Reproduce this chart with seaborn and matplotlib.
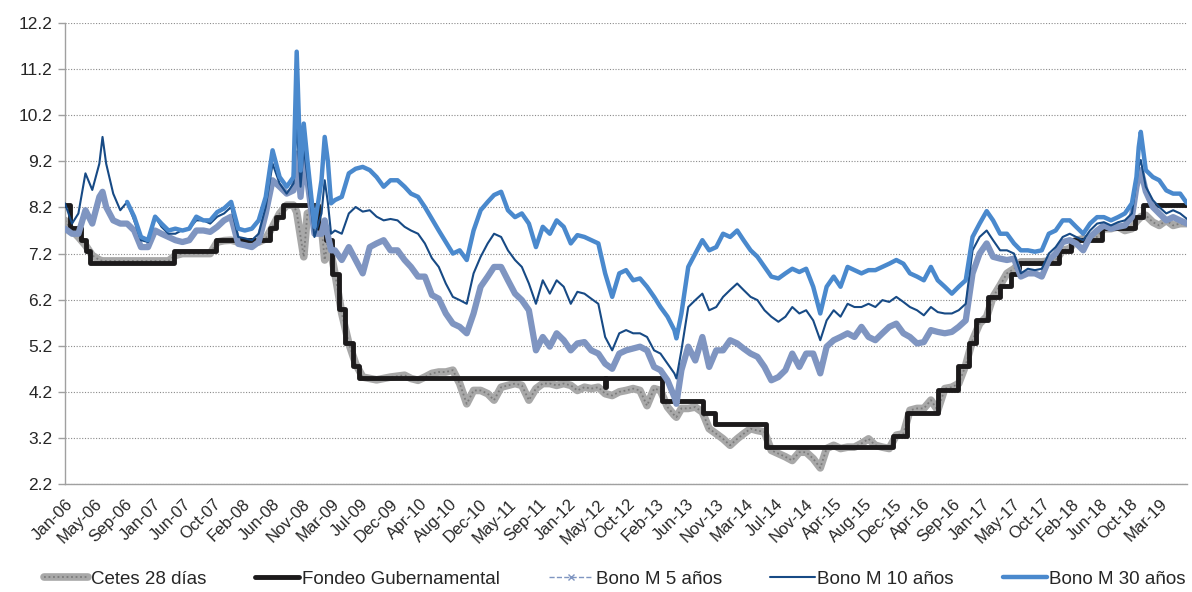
import numpy as np
import pandas as pd
import matplotlib
matplotlib.use('Agg')
import matplotlib.pyplot as plt
import matplotlib.dates as mdates
from matplotlib.lines import Line2D
import seaborn as sns

# monthly readings Jan-06 .. Jul-19, plus a few extra days around the spikes
extra_days = ['2006-06-15', '2008-10-15', '2008-11-15', '2009-02-15', '2009-03-15',
              '2013-05-10', '2018-11-21', '2018-12-10']
dates = pd.date_range('2006-01-01', '2019-07-01', freq='MS').union(pd.to_datetime(extra_days))

nan = np.nan

cetes_28 = [
    7.92, 7.70, 7.56, 7.38, 7.16, 7.06, 7.04, 7.04, 7.04, 7.04, 7.04, 7.04, 7.04,  # 2006
    7.04, 7.04, 7.04, 7.04, 7.16, 7.20, 7.20, 7.20, 7.20, 7.20, 7.45, 7.48,  # 2007
    7.49, 7.45, 7.42, 7.45, 7.45, 7.52, 7.78, 8.07, 8.25, 8.25, 8.10, 7.56, 7.13, 8.07,  # 2008
    8.14, 7.78, 7.06, 7.49, 7.20, 6.77, 5.90, 5.25, 4.81, 4.52, 4.49, 4.46, 4.49, 4.52,  # 2009
    4.54, 4.56, 4.49, 4.45, 4.52, 4.60, 4.63, 4.63, 4.67, 4.38, 3.94, 4.23,  # 2010
    4.23, 4.16, 4.02, 4.30, 4.34, 4.38, 4.34, 4.02, 4.27, 4.38, 4.38, 4.34,  # 2011
    4.38, 4.34, 4.23, 4.30, 4.27, 4.30, 4.16, 4.12, 4.20, 4.23, 4.27, 4.23,  # 2012
    3.90, 4.27, 4.23, 3.87, 3.69, 3.65, 3.84, 3.84, 3.87, 3.76, 3.40, 3.29, 3.18,  # 2013
    3.04, 3.18, 3.29, 3.40, 3.36, 3.33, 2.93, 2.86, 2.79, 2.71, 2.89, 2.89,  # 2014
    2.75, 2.55, 2.97, 3.04, 2.97, 3.00, 3.00, 3.08, 3.18, 3.04, 3.00, 2.97,  # 2015
    3.26, 3.29, 3.80, 3.84, 3.84, 4.02, 3.80, 4.27, 4.30, 4.38, 4.78, 5.32,  # 2016
    5.68, 5.83, 6.26, 6.51, 6.77, 6.87, 7.02, 7.02, 7.02, 7.02, 7.04, 7.05,  # 2017
    7.27, 7.31, 7.49, 7.52, 7.52, 7.56, 7.74, 7.74, 7.78, 7.70, 7.74, 7.90, 7.95, 8.00,  # 2018
    8.03, 7.88, 7.81, 7.92, 7.81, 7.85, 7.85,  # 2019
]

bono_5 = [
    7.74, 7.63, 7.63, 8.14, 7.85, 8.43, 8.54, 8.21, 7.92, 7.85, 7.85, 7.70, 7.34,
    7.34, 7.70, 7.63, 7.56, 7.49, 7.45, 7.49, 7.70, 7.70, 7.67, 7.78, 7.92,
    8.00, 7.41, 7.38, 7.34, 7.45, 8.07, 8.79, 8.65, 8.50, 8.57, 9.37, 8.43, 9.23, 8.79,
    7.63, 7.63, 7.92, 7.60, 7.27, 7.27, 7.06, 7.34, 7.06, 6.77, 7.34, 7.42, 7.49, 7.27,
    7.27, 7.06, 6.91, 6.70, 6.70, 6.30, 6.22, 5.90, 5.68, 5.61, 5.47, 5.90,
    6.48, 6.70, 6.91, 6.91, 6.62, 6.33, 6.19, 5.97, 5.10, 5.39, 5.18, 5.47,
    5.32, 5.10, 5.25, 5.28, 5.10, 5.03, 4.81, 4.70, 5.03, 5.10, 5.14, 5.18,
    5.10, 4.74, 4.67, 4.45, 4.09, 3.94, 4.67, 5.18, 4.88, 5.39, 4.74, 5.10, 5.10,
    5.32, 5.25, 5.14, 5.03, 4.96, 4.74, 4.45, 4.52, 4.67, 5.03, 4.74, 5.03,
    5.03, 4.60, 5.18, 5.32, 5.39, 5.47, 5.39, 5.61, 5.39, 5.32, 5.47, 5.61,
    5.68, 5.47, 5.39, 5.25, 5.28, 5.54, 5.50, 5.47, 5.50, 5.61, 5.75, 6.77,
    7.20, 7.42, 7.13, 7.09, 7.06, 7.09, 6.70, 6.77, 6.77, 6.70, 7.06, 7.20,
    7.45, 7.49, 7.42, 7.27, 7.56, 7.70, 7.81, 7.74, 7.78, 7.81, 7.99, 8.65, 8.86, 9.01,
    8.55, 8.21, 8.07, 7.92, 7.99, 7.92, 7.85,
]

bono_10 = [
    8.29, 7.85, 8.07, 8.94, 8.58, 9.15, 9.73, 9.15, 8.50, 8.14, 8.32, 7.92, 7.49,
    7.45, 8.00, 7.78, 7.63, 7.63, 7.71, 7.74, 7.92, 7.92, 7.85, 8.00, 8.07,
    8.21, 7.56, 7.53, 7.49, 7.63, 8.21, 9.15, 8.72, 8.50, 8.72, 10.00, 8.65, 9.50, 8.86,
    7.56, 8.07, 8.79, 8.30, 7.63, 7.70, 7.63, 8.07, 8.21, 8.11, 8.14, 8.00, 7.92, 7.95,
    7.92, 7.78, 7.70, 7.63, 7.42, 7.10, 6.91, 6.55, 6.26, 6.19, 6.11, 6.77,
    7.13, 7.42, 7.63, 7.56, 7.27, 7.06, 6.91, 6.55, 6.11, 6.62, 6.33, 6.62,
    6.48, 6.11, 6.37, 6.33, 6.22, 6.11, 5.39, 5.10, 5.47, 5.54, 5.47, 5.47,
    5.39, 5.10, 5.03, 4.81, 4.60, 4.49, 5.10, 6.04, 6.19, 6.33, 5.97, 6.04, 6.26,
    6.41, 6.55, 6.41, 6.26, 6.19, 5.97, 5.83, 5.72, 5.83, 6.04, 5.90, 5.97,
    5.75, 5.32, 5.75, 5.97, 5.83, 6.11, 6.04, 6.04, 6.11, 6.04, 6.19, 6.15,
    6.26, 6.15, 6.04, 5.97, 5.86, 6.04, 5.93, 5.90, 5.90, 5.97, 6.11, 7.27,
    7.56, 7.70, 7.49, 7.27, 7.27, 7.20, 6.77, 6.87, 6.84, 6.87, 7.20, 7.34,
    7.56, 7.63, 7.56, 7.49, 7.70, 7.85, 7.88, 7.81, 7.88, 7.92, 8.07, 8.79, 9.08, 9.23,
    8.65, 8.36, 8.21, 8.07, 8.14, 8.07, 7.95,
]

bono_30 = [
    nan, nan, nan, nan, nan, nan, nan, nan, nan, nan, 8.32, 8.00, 7.56,
    7.49, 8.00, 7.85, 7.70, 7.74, 7.70, 7.74, 8.00, 7.92, 7.92, 8.10, 8.18,
    8.32, 7.74, 7.70, 7.74, 7.92, 8.43, 9.44, 8.86, 8.65, 8.86, 11.58, 9.00, 10.02, 9.23,
    7.78, 8.79, 9.73, 9.20, 8.29, 8.36, 8.43, 8.94, 9.04, 9.08, 9.01, 8.86, 8.65, 8.79,
    8.79, 8.65, 8.50, 8.43, 8.21, 7.95, 7.70, 7.45, 7.20, 7.27, 7.06, 7.70,
    8.14, 8.32, 8.47, 8.54, 8.14, 7.99, 8.07, 7.85, 7.34, 7.78, 7.63, 7.92,
    7.78, 7.42, 7.60, 7.56, 7.49, 7.42, 6.77, 6.26, 6.77, 6.84, 6.62, 6.66,
    6.48, 6.26, 6.04, 5.83, 5.54, 5.36, 5.90, 6.91, 7.20, 7.49, 7.27, 7.34, 7.63,
    7.56, 7.70, 7.49, 7.27, 7.13, 6.91, 6.70, 6.66, 6.77, 6.87, 6.80, 6.87,
    6.48, 5.90, 6.48, 6.70, 6.48, 6.91, 6.84, 6.77, 6.84, 6.84, 6.91, 6.98,
    7.06, 6.98, 6.77, 6.70, 6.62, 6.91, 6.62, 6.48, 6.33, 6.48, 6.62, 7.56,
    7.85, 8.12, 7.92, 7.63, 7.63, 7.42, 7.27, 7.27, 7.24, 7.27, 7.63, 7.70,
    7.92, 7.92, 7.78, 7.63, 7.85, 7.99, 7.99, 7.92, 7.99, 8.07, 8.29, 8.86, 9.51, 9.84,
    9.01, 8.86, 8.79, 8.57, 8.50, 8.50, 8.29,
]

# target rate changes (step series)
fondeo_dates = ['2006-01-01', '2006-01-25', '2006-03-13', '2006-04-03', '2006-04-20',
                '2007-04-27', '2007-10-26', '2008-06-20', '2008-07-18', '2008-08-15',
                '2009-01-16', '2009-02-20', '2009-03-20', '2009-04-17', '2009-05-15',
                '2009-06-19', '2009-07-17', '2012-07-02', '2012-07-06', '2013-03-08',
                '2013-09-06', '2013-10-25', '2014-06-06', '2015-12-17', '2016-02-17',
                '2016-06-30', '2016-09-29', '2016-11-17', '2016-12-15', '2017-02-09',
                '2017-03-30', '2017-05-18', '2017-06-22', '2017-12-14', '2018-02-08',
                '2018-06-21', '2018-11-15', '2018-12-20', '2019-07-01']
fondeo_rate = [8.25, 7.75, 7.50, 7.25, 7.00, 7.25, 7.50, 7.75, 8.00, 8.25,
               7.75, 7.50, 6.75, 6.00, 5.25, 4.75, 4.50, 4.30, 4.50, 4.00,
               3.75, 3.50, 3.00, 3.25, 3.75, 4.25, 4.75, 5.25, 5.75, 6.25,
               6.50, 6.75, 7.00, 7.25, 7.50, 7.75, 8.00, 8.25, 8.25]

tick_labels = ['Jan-06', 'May-06', 'Sep-06', 'Jan-07', 'Jun-07', 'Oct-07', 'Feb-08', 'Jun-08',
               'Nov-08', 'Mar-09', 'Jul-09', 'Dec-09', 'Apr-10', 'Aug-10', 'Dec-10', 'May-11',
               'Sep-11', 'Jan-12', 'May-12', 'Oct-12', 'Feb-13', 'Jun-13', 'Nov-13', 'Mar-14',
               'Jul-14', 'Nov-14', 'Apr-15', 'Aug-15', 'Dec-15', 'Apr-16', 'Sep-16', 'Jan-17',
               'May-17', 'Oct-17', 'Feb-18', 'Jun-18', 'Oct-18', 'Mar-19']

legend_labels = ['Cetes 28 días', 'Fondeo Gubernamental', 'Bono M 5 años',
                 'Bono M 10 años', 'Bono M 30 años']

for s in (cetes_28, bono_5, bono_10, bono_30):
    assert len(s) == len(dates)

c_cetes, c_cetes_dot = '#a8a8a8', '#7c7c7c'
c_fondeo = '#1c1a1b'
c_5, c_10, c_30 = '#7f95c1', '#174a85', '#4a89cd'

sns.set_style('white')
plt.rcParams['font.family'] = ['Liberation Sans', 'DejaVu Sans']

fig, ax = plt.subplots(figsize=(11.92, 5.92), dpi=100)
fig.subplots_adjust(left=0.0545, right=0.9958, bottom=0.1824, top=0.961)

sns.lineplot(x=dates, y=cetes_28, ax=ax, color=c_cetes, lw=5.5, estimator=None, zorder=2)
sns.lineplot(x=dates, y=cetes_28, ax=ax, color=c_cetes_dot, lw=1.3, ls=(0, (1, 1.5)),
             estimator=None, zorder=2)
sns.lineplot(x=pd.to_datetime(fondeo_dates), y=fondeo_rate, ax=ax, color=c_fondeo, lw=3.5,
             drawstyle='steps-post', estimator=None, zorder=3)
sns.lineplot(x=dates, y=bono_5, ax=ax, color=c_5, lw=4.5, estimator=None, zorder=4)
sns.lineplot(x=dates, y=bono_10, ax=ax, color=c_10, lw=1.5, estimator=None, zorder=5)
sns.lineplot(x=dates, y=bono_30, ax=ax, color=c_30, lw=3.2, estimator=None, zorder=6)

# axes
ax.set_ylim(2.2, 12.2)
yticks = np.arange(2.2, 12.25, 1.0)
ax.set_yticks(yticks)
ax.set_yticklabels([f'{v:.1f}' for v in yticks], fontsize=12.5, color='#262626')
ax.yaxis.grid(True, color='#8a8a8a', lw=0.8, ls=(0, (1, 1.5)))
ax.xaxis.grid(False)

x_start = mdates.date2num(pd.Timestamp('2006-01-01'))
x_end = mdates.date2num(pd.Timestamp('2019-07-01'))
ax.set_xlim(x_start, x_end)
ax.set_xticks(x_start + 130.0 * np.arange(len(tick_labels)))
ax.set_xticklabels(tick_labels, rotation=45, ha='right', rotation_mode='anchor',
                   fontsize=12, color='#262626')
ax.tick_params(axis='x', direction='out', length=6, width=1, color='#a0a0a0', pad=3)
ax.tick_params(axis='y', direction='out', length=5, width=1, color='#a0a0a0', pad=4, left=True)
ax.set_xlabel('')
ax.set_ylabel('')

for side in ['top', 'right']:
    ax.spines[side].set_visible(False)
for side in ['left', 'bottom']:
    ax.spines[side].set_color('#a0a0a0')
    ax.spines[side].set_linewidth(1)

# legend
h_cetes = (Line2D([], [], color=c_cetes, lw=5.5),
           Line2D([], [], color=c_cetes_dot, lw=1.3, ls=(0, (1, 1.5))))
h_fondeo = Line2D([], [], color=c_fondeo, lw=3.5)
h_5 = Line2D([], [], color=c_5, lw=1, ls='--', marker='x', markersize=4)
h_10 = Line2D([], [], color=c_10, lw=1.5)
h_30 = Line2D([], [], color=c_30, lw=3.2)
fig.legend([h_cetes, h_fondeo, h_5, h_10, h_30], legend_labels, loc='center',
           bbox_to_anchor=(0.516, 0.022), ncol=5, frameon=False, fontsize=13.5,
           handlelength=2.35, handletextpad=0.15, columnspacing=2.6)

fig.savefig('out.png', dpi=100)
